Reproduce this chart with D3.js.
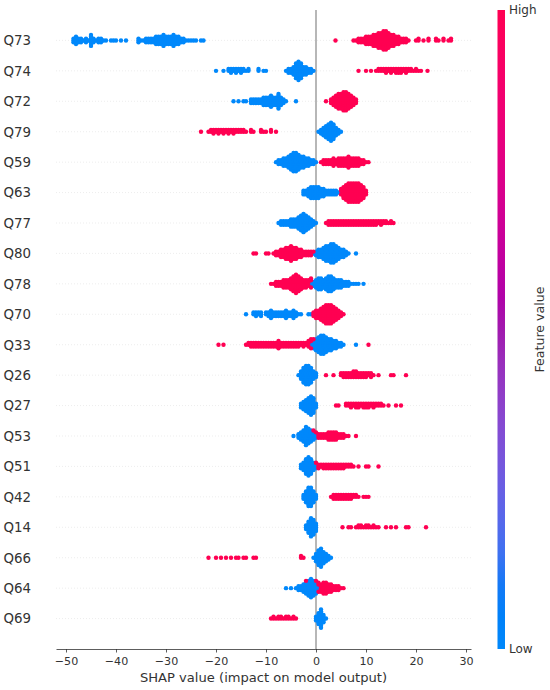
<!DOCTYPE html>
<html>
<head>
<meta charset="utf-8">
<script src="https://cdn.jsdelivr.net/npm/d3@7"></script>
<style>
  body { margin: 0; background: #fff; }
  text { font-family: "DejaVu Sans", sans-serif; fill: #333; }
</style>
</head>
<body>
<svg id="chart"></svg>
<script>
const width = 550
const height = 690

// features, top to bottom
const features = ['Q73', 'Q74', 'Q72', 'Q79', 'Q59', 'Q63', 'Q77', 'Q80', 'Q78', 'Q70',
  'Q33', 'Q26', 'Q27', 'Q53', 'Q51', 'Q42', 'Q14', 'Q66', 'Q64', 'Q69']

// SHAP values as [value, number of samples]
// low feature value (blue)
const lowShap = [
  [[-48.5, 3], [-48, 5], [-47.5, 3], [-47, 3], [-46.5, 1], [-46, 3], [-45.5, 1], [-45, 7], [-44.5, 3], [-44, 1], [-43.5, 3], [-43, 3], [-42.5, 1], [-42, 1], [-41, 1], [-40.5, 1], [-40, 1], [-39, 1], [-38, 1],
    [-35.5, 3], [-35, 1], [-34.5, 1], [-34, 3], [-33.5, 3], [-33, 3], [-32.5, 3], [-32, 5], [-31.5, 5], [-31, 5], [-30.5, 7], [-30, 5], [-29.5, 5], [-29, 5], [-28.5, 7], [-28, 5], [-27.5, 5], [-27, 3], [-26.5, 3], [-26, 1], [-25.5, 1], [-25, 1], [-24.5, 1], [-24, 1], [-23, 1], [-22.5, 1]],
  [[-20, 1], [-18.5, 1], [-17.5, 2], [-17, 3], [-16.5, 2], [-16, 3], [-15.5, 2], [-15, 3], [-14.5, 2], [-14, 1], [-13.5, 2], [-11.5, 2], [-10.5, 1], [-10, 1],
    [-6, 1], [-5.5, 3], [-5, 3], [-4.5, 5], [-4, 9], [-3.5, 11], [-3, 9], [-2.5, 5], [-2, 5], [-1.5, 3], [-1, 3], [-0.5, 1]],
  [[-16.5, 1], [-15.5, 1], [-14.5, 1], [-14, 1], [-13, 3], [-12.5, 3], [-12, 3], [-11.5, 3], [-11, 3], [-10.5, 5], [-10, 5], [-9.5, 5], [-9, 7], [-8.5, 5], [-8, 5], [-7.5, 9], [-7, 5], [-6.5, 3], [-6, 1], [-4, 1]],
  [[0.5, 1], [1, 3], [1.5, 5], [2, 7], [2.5, 9], [3, 11], [3.5, 9], [4, 5], [4.5, 3], [5, 1]],
  [[-8, 1], [-7.5, 3], [-7, 3], [-6.5, 5], [-6, 5], [-5.5, 7], [-5, 9], [-4.5, 11], [-4, 11], [-3.5, 9], [-3, 7], [-2.5, 7], [-2, 5], [-1.5, 5], [-1, 3], [-0.5, 3], [0, 1]],
  [[-2.5, 3], [-2, 3], [-1.5, 5], [-1, 7], [-0.5, 7], [0, 7], [0.5, 7], [1, 5], [1.5, 5], [2, 3], [2.5, 3], [3, 3], [3.5, 3], [4, 3], [4.5, 1], [5, 1]],
  [[-7.5, 1], [-7, 3], [-6.5, 3], [-6, 3], [-5.5, 3], [-5, 5], [-4.5, 5], [-4, 5], [-3.5, 7], [-3, 9], [-2.5, 11], [-2, 9], [-1.5, 7], [-1, 5], [-0.5, 3], [0, 1]],
  [[-0.5, 1], [0, 3], [0.5, 5], [1, 5], [1.5, 7], [2, 9], [2.5, 9], [3, 11], [3.5, 11], [4, 9], [4.5, 7], [5, 5], [5.5, 5], [6, 3], [6.5, 1], [8, 1]],
  [[-1.5, 1], [-1, 3], [-0.5, 3], [0, 5], [0.5, 7], [1, 7], [1.5, 5], [2, 7], [2.5, 9], [3, 9], [3.5, 7], [4, 5], [4.5, 5], [5, 5], [5.5, 3], [6, 3], [6.5, 3], [7, 1], [7.5, 1], [8, 1], [8.5, 1], [9.5, 1]],
  [[-14, 1], [-12.5, 2], [-12, 3], [-11.5, 2], [-11, 3], [-10, 2], [-9.5, 3], [-9, 5], [-8.5, 3], [-8, 3], [-7.5, 3], [-7, 3], [-6.5, 3], [-6, 5], [-5.5, 3], [-5, 3], [-4.5, 5], [-4, 3], [-3.5, 1], [-3, 1], [-1.5, 1], [-1, 1]],
  [[-1.5, 1], [-1, 3], [-0.5, 5], [0, 7], [0.5, 9], [1, 11], [1.5, 11], [2, 9], [2.5, 7], [3, 7], [3.5, 5], [4, 5], [4.5, 3], [5, 3], [5.5, 1], [8, 1]],
  [[-3.5, 1], [-3, 5], [-2.5, 9], [-2, 11], [-1.5, 11], [-1, 9], [-0.5, 5], [0, 3]],
  [[-3, 3], [-2.5, 5], [-2, 7], [-1.5, 9], [-1, 11], [-0.5, 9], [0, 3]],
  [[-4.5, 1], [-3.5, 3], [-3, 5], [-2.5, 7], [-2, 11], [-1.5, 9], [-1, 7], [-0.5, 5], [0, 3]],
  [[-3, 3], [-2.5, 5], [-2, 9], [-1.5, 11], [-1, 9], [-0.5, 5], [0, 3]],
  [[-2.5, 3], [-2, 7], [-1.5, 11], [-1, 11], [-0.5, 7], [0, 3]],
  [[-2, 3], [-1.5, 7], [-1, 11], [-0.5, 9], [0, 5]],
  [[-0.5, 1], [0, 5], [0.5, 9], [1, 11], [1.5, 7], [2, 5], [2.5, 3], [3, 1]],
  [[-6, 1], [-5, 1], [-4, 1], [-3.5, 3], [-3, 3], [-2.5, 5], [-2, 7], [-1.5, 9], [-1, 11], [-0.5, 9], [0, 7], [0.5, 3]],
  [[0, 3], [0.5, 7], [1, 11], [1.5, 5], [2, 1]]
]

// high feature value (red)
const highShap = [
  [[3.9, 1], [7.5, 1], [8, 1], [8.5, 3], [9, 3], [9.5, 3], [10, 5], [10.5, 5], [11, 5], [11.5, 7], [12, 7], [12.5, 9], [13, 9], [13.5, 11], [14, 11], [14.5, 9], [15, 7], [15.5, 7], [16, 5], [16.5, 5], [17, 3], [17.5, 3], [18, 3], [18.5, 1],
    [20, 1], [20.5, 2], [21.5, 1], [22.5, 2], [24, 2], [24.5, 1], [25.5, 2], [26.5, 1], [27, 2]],
  [[8.5, 1], [10, 1], [11, 1], [12, 1], [12.5, 2], [13, 2], [13.5, 2], [14, 3], [14.5, 2], [15, 3], [15.5, 2], [16, 3], [16.5, 3], [17, 3], [17.5, 2], [18, 3], [18.5, 2], [19, 2], [19.5, 1], [20, 2], [20.5, 1], [21, 1], [22.3, 1]],
  [[2, 1], [3, 3], [3.5, 5], [4, 7], [4.5, 9], [5, 9], [5.5, 11], [6, 11], [6.5, 9], [7, 7], [7.5, 5], [8, 3]],
  [[-23, 1], [-21.5, 1], [-21, 2], [-20.5, 3], [-20, 2], [-19.5, 3], [-19, 2], [-18.5, 3], [-18, 2], [-17.5, 3], [-17, 2], [-16.5, 3], [-16, 2], [-15.5, 2], [-15, 2], [-14.5, 2], [-14, 1], [-13, 2], [-12.5, 1], [-11, 2], [-10.5, 1], [-10, 1], [-9, 2], [-8, 1]],
  [[1, 1], [1.5, 3], [2, 3], [2.5, 3], [3, 3], [3.5, 5], [4, 3], [4.5, 5], [5, 5], [5.5, 5], [6, 5], [6.5, 7], [7, 5], [7.5, 5], [8, 5], [8.5, 5], [9, 3], [9.5, 3], [10, 1], [10.5, 1]],
  [[5, 3], [5.5, 7], [6, 9], [6.5, 11], [7, 11], [7.5, 11], [8, 11], [8.5, 11], [9, 9], [9.5, 7], [10, 3]],
  [[2, 1], [2.5, 3], [3, 3], [3.5, 3], [4, 3], [4.5, 3], [5, 3], [5.5, 3], [6, 3], [6.5, 3], [7, 3], [7.5, 3], [8, 3], [8.5, 3], [9, 3], [9.5, 3], [10, 3], [10.5, 3], [11, 3], [11.5, 3], [12, 3], [12.5, 2], [13, 3], [13.5, 2], [14, 2], [14.5, 1], [15, 2], [15.5, 1]],
  [[-12.5, 1], [-12, 1], [-10, 1], [-9.5, 1], [-8.5, 1], [-8, 3], [-7.5, 3], [-7, 5], [-6.5, 5], [-6, 7], [-5.5, 7], [-5, 9], [-4.5, 7], [-4, 7], [-3.5, 5], [-3, 5], [-2.5, 3], [-2, 3], [-1.5, 3], [-1, 3], [-0.5, 1]],
  [[-9, 1], [-8.5, 1], [-8, 3], [-7.5, 3], [-7, 3], [-6.5, 5], [-6, 5], [-5.5, 5], [-5, 7], [-4.5, 9], [-4, 11], [-3.5, 9], [-3, 7], [-2.5, 5], [-2, 5], [-1.5, 3], [-1, 3]],
  [[-0.5, 3], [0, 5], [0.5, 5], [1, 7], [1.5, 9], [2, 11], [2.5, 11], [3, 11], [3.5, 9], [4, 7], [4.5, 5], [5, 3], [5.5, 1]],
  [[-19.5, 1], [-18.5, 1], [-14, 1], [-13.5, 2], [-13, 3], [-12.5, 3], [-12, 3], [-11.5, 3], [-11, 3], [-10.5, 3], [-10, 3], [-9.5, 3], [-9, 3], [-8.5, 3], [-8, 3], [-7.5, 5], [-7, 3], [-6.5, 3], [-6, 3], [-5.5, 3], [-5, 3], [-4.5, 3], [-4, 3], [-3.5, 3], [-3, 2], [-2.5, 3], [-2, 2], [-1.5, 3], [-1, 3], [-0.5, 1], [10.5, 1]],
  [[2, 1], [3.5, 1], [5, 2], [5.5, 3], [6, 3], [6.5, 3], [7, 3], [7.5, 4], [8, 4], [8.5, 3], [9, 3], [9.5, 3], [10, 3], [10.5, 2], [11, 3], [11.5, 1], [12.5, 1], [15, 1], [15.5, 1], [18, 1]],
  [[4, 1], [4.5, 1], [6, 2], [6.5, 2], [7, 3], [7.5, 2], [8, 3], [8.5, 3], [9, 2], [9.5, 3], [10, 3], [10.5, 3], [11, 2], [11.5, 3], [12, 2], [12.5, 2], [13, 2], [13.5, 1], [14.5, 1], [16, 1], [17, 1]],
  [[-0.5, 1], [0, 1], [0.5, 3], [1, 3], [1.5, 3], [2, 3], [2.5, 5], [3, 5], [3.5, 5], [4, 5], [4.5, 3], [5, 3], [5.5, 3], [6, 1], [6.5, 1], [8, 1]],
  [[0, 1], [0.5, 3], [1, 2], [1.5, 3], [2, 3], [2.5, 3], [3, 3], [3.5, 3], [4, 3], [4.5, 3], [5, 3], [5.5, 3], [6, 2], [6.5, 2], [7, 2], [7.5, 1], [8.5, 1], [10, 1], [10.5, 1], [12.5, 1]],
  [[3, 1], [3.5, 3], [4, 3], [4.5, 3], [5, 3], [5.5, 3], [6, 3], [6.5, 3], [7, 3], [7.5, 2], [8, 2], [8.5, 1], [9.5, 1], [10, 1], [10.5, 1]],
  [[5.3, 1], [6.5, 1], [7, 1], [8, 1], [8.5, 2], [9, 2], [9.5, 1], [10, 2], [10.5, 2], [11, 1], [11.5, 2], [12, 1], [12.5, 1], [14, 1], [15, 1], [16, 1], [18, 1], [18.5, 1], [22, 1]],
  [[-21.5, 1], [-20, 1], [-19, 1], [-18, 1], [-17, 1], [-16, 1], [-15.5, 1], [-14.5, 1], [-14, 1], [-12.5, 1], [-12, 1], [-3, 2], [-2.5, 1]],
  [[-2, 1], [0, 1], [0.5, 3], [1, 5], [1.5, 7], [2, 7], [2.5, 5], [3, 5], [3.5, 3], [4, 3], [4.5, 3], [5, 1], [5.5, 1]],
  [[-9, 1], [-8.5, 2], [-8, 1], [-7.5, 2], [-7, 2], [-6.5, 1], [-6, 2], [-5.5, 2], [-5, 1], [-4.5, 2], [-4, 1]]
]

const xTicks = [-50, -40, -30, -20, -10, 0, 10, 20, 30]
const xLabel = 'SHAP value (impact on model output)'
const colorLabels = ['Low', 'High']
const colorTitle = 'Feature value'

// shap's red_blue map: lch from blue to red, lightness dips in the middle
const cmap = t => {
  const l = t < 0.5 ? 54 - 28 * t : 40 + 28 * (t - 0.5)
  return d3.lch(l, 70 + 20 * t, 266.93 + (380.32 - 266.93) * t).formatHex()
}
const lowColor = cmap(0)
const highColor = cmap(1)

const x = d3.scaleLinear().domain([-52, 31]).range([56, 471])
const y = d3.scaleLinear().domain([-1, features.length]).range([649, 10])
const rowPos = i => features.length - 1 - i
const rowHeight = 0.4

const svg = d3.select('#chart').attr('width', width).attr('height', height)

// dotted row guides
svg.append('g')
  .selectAll('line')
  .data(features)
  .join('line')
  .attr('x1', x.range()[0])
  .attr('x2', x.range()[1])
  .attr('y1', (d, i) => y(rowPos(i)))
  .attr('y2', (d, i) => y(rowPos(i)))
  .attr('stroke', '#cccccc')
  .attr('stroke-width', 0.6)
  .attr('stroke-dasharray', '0.6 2.4')

// zero line
svg.append('line')
  .attr('x1', x(0)).attr('x2', x(0))
  .attr('y1', y.range()[1]).attr('y2', y.range()[0])
  .attr('stroke', '#999999')
  .attr('stroke-width', 1.4)

// beeswarm: stack samples sharing a value, alternating up and down,
// then scale each row so the tallest stack fills 90% of the row height
const dots = []
features.forEach((f, i) => {
  const pts = []
  lowShap[i].forEach(([v, n]) => d3.range(n).forEach(() => pts.push({ v, high: false })))
  highShap[i].forEach(([v, n]) => d3.range(n).forEach(() => pts.push({ v, high: true })))
  d3.group(pts, d => d.v).forEach(g => {
    g.forEach((p, layer) => { p.ys = Math.ceil(layer / 2) * ((layer % 2) * 2 - 1) })
  })
  const m = d3.max(pts, p => p.ys)
  pts.forEach(p => {
    p.pos = rowPos(i) + p.ys * 0.9 * (rowHeight / (m + 1))
    dots.push(p)
  })
})

svg.append('g')
  .selectAll('circle')
  .data(dots)
  .join('circle')
  .attr('cx', d => x(d.v))
  .attr('cy', d => y(d.pos))
  .attr('r', 2.2)
  .attr('fill', d => (d.high ? highColor : lowColor))

// x axis
const axis = svg.append('g')
  .attr('transform', `translate(0,${y.range()[0]})`)
  .call(d3.axisBottom(x).tickValues(xTicks).tickSize(3.5).tickSizeOuter(0).tickPadding(5))
axis.select('.domain').attr('stroke', '#333').attr('stroke-width', 0.8)
axis.selectAll('.tick line').attr('stroke', '#333').attr('stroke-width', 0.8)
axis.selectAll('.tick text')
  .style('font-family', '"DejaVu Sans", sans-serif')
  .style('font-size', '11.1px')
  .attr('fill', '#333')

svg.append('text')
  .attr('x', (x.range()[0] + x.range()[1]) / 2)
  .attr('y', 681.7)
  .attr('text-anchor', 'middle')
  .style('font-size', '13.1px')
  .text(xLabel)

// feature names
svg.append('g')
  .selectAll('text')
  .data(features)
  .join('text')
  .attr('x', 31)
  .attr('y', (d, i) => y(rowPos(i)))
  .attr('dy', '0.36em')
  .attr('text-anchor', 'end')
  .style('font-size', '13.4px')
  .text(d => d)

// colour bar
const grad = svg.append('defs').append('linearGradient')
  .attr('id', 'cbar')
  .attr('x1', 0).attr('y1', 1).attr('x2', 0).attr('y2', 0)
grad.selectAll('stop')
  .data(d3.range(0, 1.0001, 0.05))
  .join('stop')
  .attr('offset', d => d)
  .attr('stop-color', d => cmap(d))

svg.append('rect')
  .attr('x', 497.5)
  .attr('y', y.range()[1])
  .attr('width', 7.5)
  .attr('height', y.range()[0] - y.range()[1])
  .attr('fill', 'url(#cbar)')

svg.append('g')
  .selectAll('text')
  .data(colorLabels)
  .join('text')
  .attr('x', 509)
  .attr('y', (d, i) => (i === 0 ? y.range()[0] : y.range()[1]))
  .attr('dy', '0.35em')
  .style('font-size', '12px')
  .text(d => d)

svg.append('text')
  .attr('transform', `translate(540,${(y.range()[0] + y.range()[1]) / 2}) rotate(-90)`)
  .attr('text-anchor', 'middle')
  .attr('dy', '0.35em')
  .style('font-size', '12.6px')
  .text(colorTitle)
</script>
</body>
</html>
